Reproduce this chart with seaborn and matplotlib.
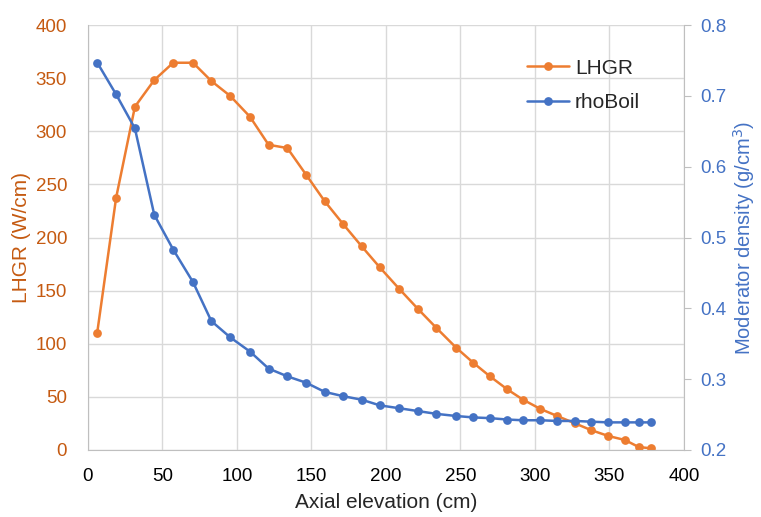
import matplotlib
matplotlib.use("Agg")
import matplotlib.pyplot as plt
import seaborn as sns
import pandas as pd

# axial node positions (cm)
elev = [6.2, 18.9, 31.5, 44.5, 57.2, 70.5, 82.8, 95.5, 108.7, 121.2, 133.8, 146.4,
        158.9, 171.2, 183.7, 195.9, 208.8, 221.3, 233.9, 247.1, 258.5, 269.7, 281.4,
        291.8, 303.7, 314.9, 326.8, 337.5, 349.2, 360.4, 369.6, 377.7]
lhgr = [110.4, 237.5, 323.1, 348.2, 364.5, 364.5, 347.3, 333.2, 313.7, 287.3, 284.2,
        259.1, 234.1, 212.7, 191.7, 171.8, 151.8, 133.0, 114.8, 96.3, 82.2, 69.4, 57.1,
        47.5, 38.6, 32.0, 25.1, 18.8, 13.2, 9.4, 2.8, 1.6]
rho_boil = [0.747, 0.702, 0.654, 0.532, 0.483, 0.437, 0.382, 0.359, 0.339, 0.315, 0.304,
            0.295, 0.282, 0.276, 0.271, 0.263, 0.259, 0.255, 0.251, 0.248, 0.246, 0.245,
            0.243, 0.242, 0.242, 0.241, 0.241, 0.240, 0.239, 0.239, 0.239, 0.239]

df = pd.DataFrame({"elev": elev, "LHGR": lhgr, "rhoBoil": rho_boil})

sns.set_style("white")
plt.rcParams['font.family'] = ['Liberation Sans', 'DejaVu Sans']

orange = "#ED7D31"
blue = "#4472C4"
orange_txt = "#C55A11"
grid_c = "#D9D9D9"

fig = plt.figure(figsize=(7.61, 5.17), dpi=100)
ax = fig.add_axes([0.1156, 0.1296, 0.7832, 0.822])
ax2 = ax.twinx()

sns.lineplot(data=df, x="elev", y="LHGR", ax=ax, color=orange, marker="o",
             markersize=6.3, markeredgewidth=0, linewidth=1.8, label="LHGR", legend=False)
sns.lineplot(data=df, x="elev", y="rhoBoil", ax=ax2, color=blue, marker="o",
             markersize=6.3, markeredgewidth=0, linewidth=1.8, label="rhoBoil", legend=False)

ax.set_xlim(0, 400)
ax.set_ylim(0, 400)
ax2.set_ylim(0.2, 0.8)
ax.set_xticks(range(0, 401, 50))
ax.set_yticks(range(0, 401, 50))
ax2.set_yticks([0.2, 0.3, 0.4, 0.5, 0.6, 0.7, 0.8])
ax2.set_yticklabels(["0.2", "0.3", "0.4", "0.5", "0.6", "0.7", "0.8"])

ax.grid(True, color=grid_c, linewidth=1.0)
ax.set_axisbelow(True)

for a in (ax, ax2):
    for s in a.spines.values():
        s.set_visible(False)
ax.spines["left"].set_visible(True)
ax.spines["left"].set_color("#BFBFBF")
ax.spines["bottom"].set_visible(True)
ax.spines["bottom"].set_color("#BFBFBF")
ax2.spines["right"].set_visible(True)
ax2.spines["right"].set_color("#BFBFBF")

ax.tick_params(axis="x", length=0, labelsize=13.5, colors="#000000", pad=13)
ax.tick_params(axis="y", length=0, labelsize=13.5, labelcolor=orange_txt, pad=15)
ax2.tick_params(axis="y", length=5, color="#BFBFBF", labelsize=13.5,
                labelcolor=blue, pad=7)

ax.set_xlabel("Axial elevation (cm)", fontsize=15, labelpad=6)
ax.set_ylabel("LHGR (W/cm)", fontsize=15, color=orange_txt, labelpad=3)
ax2.set_ylabel("Moderator density (g/cm$^3$)", fontsize=14.5, color=blue, labelpad=3)

h1, l1 = ax.get_legend_handles_labels()
h2, l2 = ax2.get_legend_handles_labels()
ax.legend(h1 + h2, l1 + l2, loc="upper left", bbox_to_anchor=(0.705, 0.965),
          frameon=False, fontsize=15, handlelength=2.0, handletextpad=0.3,
          labelspacing=0.75)

fig.savefig("out.png", dpi=100)
